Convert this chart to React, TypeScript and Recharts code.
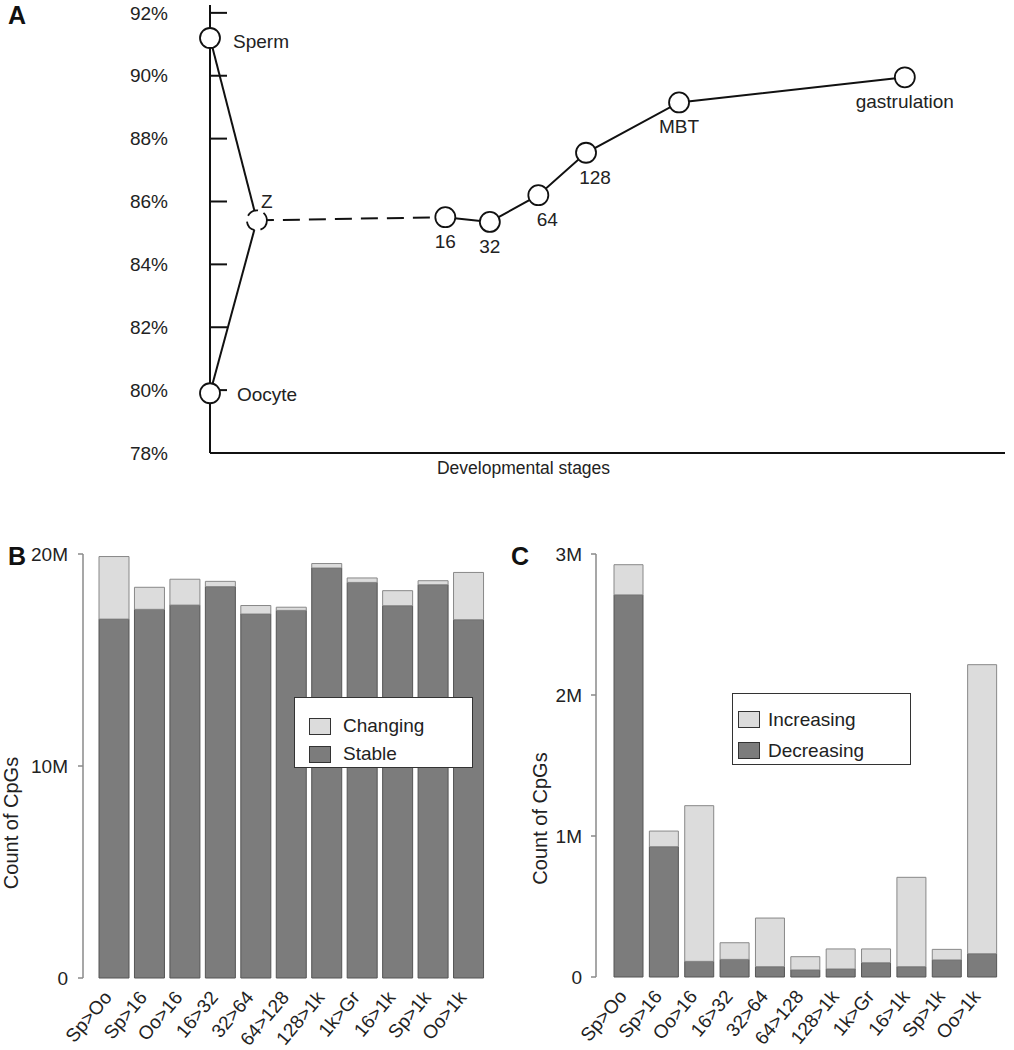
import React from 'react';
import {
  ComposedChart, Line, Scatter, XAxis, YAxis, BarChart, Bar, Legend,
} from 'recharts';

// ─────────────────────────────────────────────────────────────────────────────
// Panel A: global methylation across developmental stages
// ─────────────────────────────────────────────────────────────────────────────

const stages = ['Sperm', 'Oocyte', 'Z', '16', '32', '64', '128', 'MBT', 'gastrulation'];
const stagePos = [0, 0, 5.9, 29.6, 35.2, 41.3, 47.3, 59.0, 87.4];
const methylation = [91.2, 79.9, 85.4, 85.5, 85.35, 86.2, 87.55, 89.15, 89.95];
const pctTicks = [78, 80, 82, 84, 86, 88, 90, 92];

// ─────────────────────────────────────────────────────────────────────────────
// Panels B and C: CpG counts per transition (millions)
// ─────────────────────────────────────────────────────────────────────────────

const transitions = ['Sp>Oo', 'Sp>16', 'Oo>16', '16>32', '32>64', '64>128', '128>1k', '1k>Gr', '16>1k', 'Sp>1k', 'Oo>1k'];
const stable = [16.93, 17.39, 17.59, 18.46, 17.17, 17.34, 19.34, 18.66, 17.56, 18.55, 16.90];
const changing = [2.95, 1.04, 1.22, 0.25, 0.40, 0.15, 0.21, 0.21, 0.71, 0.19, 2.23];
const decreasing = [2.71, 0.924, 0.111, 0.125, 0.073, 0.050, 0.057, 0.101, 0.073, 0.121, 0.165];
const increasing = [0.214, 0.111, 1.104, 0.118, 0.345, 0.094, 0.142, 0.098, 0.634, 0.075, 2.05];
const countTicksB = [0, 10, 20];
const countTicksC = [0, 1, 2, 3];

const FONT = '"Liberation Sans", Arial, Helvetica, sans-serif';
const TEXT = '#222';
const LIGHT = '#dcdcdc';
const DARK = '#7c7c7c';

const points = stages.map((name, i) => ({ name, x: stagePos[i], y: methylation[i] }));
const spermToZ = [points[0], points[2]];
const oocyteToZ = [points[1], points[2]];
const zToEmbryo = [points[2], points[3]];
const embryo = points.slice(3);

const countsB = transitions.map((name, i) => ({ name, stable: stable[i], changing: changing[i] }));
const countsC = transitions.map((name, i) => ({ name, decreasing: decreasing[i], increasing: increasing[i] }));

function StageDot(props: any) {
  const { cx, cy, payload } = props;
  const name = payload.name;
  let tx = cx;
  let ty = cy + 31;
  let anchor: 'start' | 'middle' = 'middle';
  if (name === 'Sperm') { tx = cx + 23; ty = cy + 10; anchor = 'start'; }
  else if (name === 'Oocyte') { tx = cx + 27; ty = cy + 8; anchor = 'start'; }
  else if (name === 'Z') { tx = cx + 4; ty = cy - 12; anchor = 'start'; }
  else if (name === '64' || name === '128') { tx = cx + 9; }
  return (
    <g>
      <circle
        cx={cx} cy={cy} r={10} fill="#fff" stroke="#111" strokeWidth={1.8}
        strokeDasharray={name === 'Z' ? '12 6' : undefined}
      />
      <text x={tx} y={ty} textAnchor={anchor} fontSize={19} fill={TEXT}>{name}</text>
    </g>
  );
}

// rotated category labels, ending just under each bar
function SlantTick({ x, y, payload }: any) {
  const ex = x - 1;
  const ey = y + 12;
  return (
    <text x={ex} y={ey} transform={`rotate(-50, ${ex}, ${ey})`} textAnchor="end" fontSize={19} fill={TEXT}>
      {payload.value}
    </text>
  );
}

function SideTitle({ viewBox, left, shift }: any) {
  const x = viewBox.x + left;
  const y = viewBox.y + viewBox.height / 2 + shift;
  return (
    <text x={x} y={y} transform={`rotate(-90, ${x}, ${y})`} textAnchor="middle" dominantBaseline="central" fontSize={20} fill={TEXT}>
      Count of CpGs
    </text>
  );
}

// boxed legend, entries listed in the given order (top to bottom)
function BoxLegend({ payload, order, padTop, rowH, padLeft, gap }: any) {
  const items = [...(payload || [])].sort(
    (a: any, b: any) => order.indexOf(a.value) - order.indexOf(b.value),
  );
  return (
    <div style={{ border: '1.5px solid #333', background: '#fff', paddingTop: padTop, paddingLeft: padLeft, boxSizing: 'border-box', height: '100%' }}>
      {items.map((it: any) => (
        <div key={it.value} style={{ display: 'flex', alignItems: 'center', height: rowH }}>
          <span style={{ width: 22, height: 17, background: it.color, border: '1.3px solid #333', marginRight: gap, boxSizing: 'border-box' }} />
          <span style={{ fontSize: 19, color: TEXT, fontFamily: FONT }}>{it.value}</span>
        </div>
      ))}
    </div>
  );
}

const panelLetter = { position: 'absolute' as const, fontSize: 25, fontWeight: 'bold' as const, color: '#111' };

export default function App() {
  return (
    <div style={{ position: 'absolute', left: 0, top: 0, width: 1014, height: 1050, background: '#fff', fontFamily: FONT }}>
      <div style={{ ...panelLetter, left: 8, top: 1 }}>A</div>
      <div style={{ ...panelLetter, left: 8, top: 542 }}>B</div>
      <div style={{ ...panelLetter, left: 511, top: 542 }}>C</div>

      {/* Panel A */}
      <div style={{ position: 'absolute', left: 0, top: 0 }}>
        <ComposedChart width={1014} height={490} margin={{ top: 5, right: 9, bottom: 0, left: 0 }}>
          <XAxis
            type="number" dataKey="x" domain={[0, 100]} tick={false} tickLine={false} height={37}
            axisLine={{ stroke: '#111', strokeWidth: 2 }}
            label={{ value: 'Developmental stages', position: 'insideTop', offset: 9, dx: -84, fontSize: 17.5, fill: TEXT }}
          />
          <YAxis
            type="number" dataKey="y" domain={[78, 92.25]} ticks={pctTicks} interval={0} width={210}
            tickFormatter={(v: any) => `${v}%`}
            tickSize={-17} tickMargin={59}
            axisLine={{ stroke: '#111', strokeWidth: 2 }}
            tickLine={{ stroke: '#111', strokeWidth: 2 }}
            tick={{ fontSize: 19, fill: TEXT }}
          />
          <Line data={spermToZ} dataKey="y" stroke="#111" strokeWidth={2} dot={false} isAnimationActive={false} />
          <Line data={oocyteToZ} dataKey="y" stroke="#111" strokeWidth={2} dot={false} isAnimationActive={false} />
          <Line data={zToEmbryo} dataKey="y" stroke="#111" strokeWidth={2} strokeDasharray="17 9" dot={false} isAnimationActive={false} />
          <Line data={embryo} dataKey="y" stroke="#111" strokeWidth={2} dot={false} isAnimationActive={false} />
          <Scatter data={points} shape={<StageDot />} isAnimationActive={false} />
        </ComposedChart>
      </div>

      {/* Panel B */}
      <div style={{ position: 'absolute', left: 0, top: 540 }}>
        <BarChart width={510} height={510} data={countsB} margin={{ top: 14, right: 24, bottom: 0, left: 0 }} barSize={30}>
          <XAxis dataKey="name" interval={0} height={72} axisLine={false} tickLine={false} padding={{ left: 13, right: 0 }} tick={<SlantTick />} />
          <YAxis
            width={83} domain={[0, 20]} ticks={countTicksB} interval={0}
            tickFormatter={(v: any) => (v === 0 ? '0' : `${v}M`)}
            axisLine={{ stroke: '#8a8a8a', strokeWidth: 1.5 }} tickLine={{ stroke: '#8a8a8a', strokeWidth: 1.5 }}
            tickSize={5} tickMargin={10} tick={{ fontSize: 19, fill: TEXT }}
            label={<SideTitle left={11} shift={57} />}
          />
          <Legend
            layout="horizontal" verticalAlign="middle" align="center"
            wrapperStyle={{ left: 294, top: 157, width: 179, height: 71 }}
            content={<BoxLegend order={['Changing', 'Stable']} padTop={14} rowH={28} padLeft={14} gap={12} />}
          />
          <Bar dataKey="stable" name="Stable" stackId="s" fill={DARK} stroke="#555" strokeWidth={1} isAnimationActive={false} />
          <Bar dataKey="changing" name="Changing" stackId="s" fill={LIGHT} stroke="#888" strokeWidth={1} isAnimationActive={false} />
        </BarChart>
      </div>

      {/* Panel C */}
      <div style={{ position: 'absolute', left: 505, top: 540 }}>
        <BarChart width={509} height={510} data={countsC} margin={{ top: 14, right: 14, bottom: 0, left: 0 }} barSize={29}>
          <XAxis dataKey="name" interval={0} height={73} axisLine={false} tickLine={false} padding={{ left: 15, right: 0 }} tick={<SlantTick />} />
          <YAxis
            width={91} domain={[0, 3]} ticks={countTicksC} interval={0}
            tickFormatter={(v: any) => (v === 0 ? '0' : `${v}M`)}
            axisLine={{ stroke: '#8a8a8a', strokeWidth: 1.5 }} tickLine={{ stroke: '#8a8a8a', strokeWidth: 1.5 }}
            tickSize={5} tickMargin={9} tick={{ fontSize: 19, fill: TEXT }}
            label={<SideTitle left={35} shift={53} />}
          />
          <Legend
            layout="horizontal" verticalAlign="middle" align="center"
            wrapperStyle={{ left: 227, top: 153, width: 179, height: 72 }}
            content={<BoxLegend order={['Increasing', 'Decreasing']} padTop={10} rowH={31} padLeft={5} gap={8} />}
          />
          <Bar dataKey="decreasing" name="Decreasing" stackId="c" fill={DARK} stroke="#555" strokeWidth={1} isAnimationActive={false} />
          <Bar dataKey="increasing" name="Increasing" stackId="c" fill={LIGHT} stroke="#888" strokeWidth={1} isAnimationActive={false} />
        </BarChart>
      </div>
    </div>
  );
}
